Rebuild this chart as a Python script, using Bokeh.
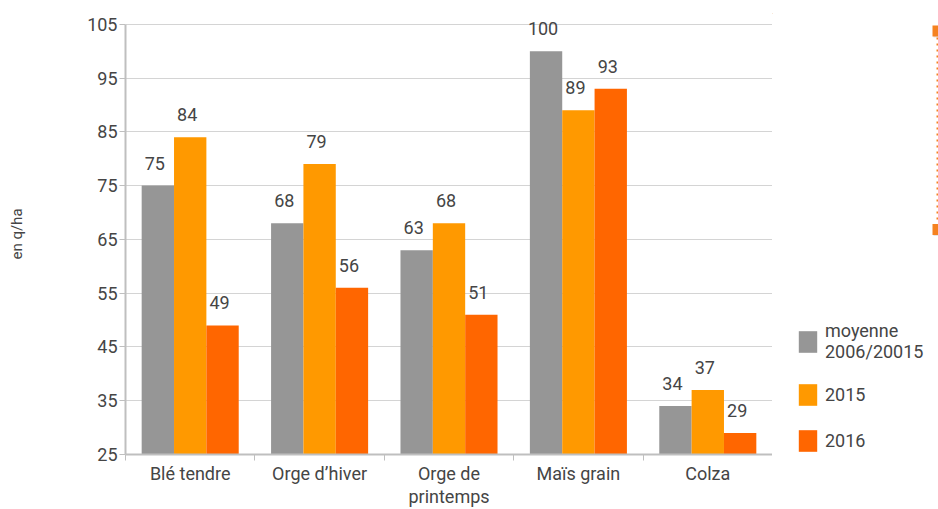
import numpy as np
from bokeh.plotting import figure
from bokeh.layouts import row
from bokeh.models import (ColumnDataSource, FixedTicker, Range1d, LabelSet, Legend,
                          LegendItem)
from bokeh.core.properties import value
from bokeh.embed import file_html
from bokeh.resources import INLINE

categories = ["Blé tendre", "Orge d’hiver", "Orge de\nprintemps", "Maïs grain", "Colza"]
moyenne = [75, 68, 63, 100, 34]
y2015 = [84, 79, 68, 89, 37]
y2016 = [49, 56, 51, 93, 29]
series_names = ["moyenne\n2006/20015", "2015", "2016"]
colors = ["#969696", "#FF9900", "#FF6600"]
y_ticks = [25, 35, 45, 55, 65, 75, 85, 95, 105]

FONT = "Roboto"
TXT = "#454545"
H = 509

p = figure(width=772, height=H, x_range=Range1d(0, 5), y_range=Range1d(25, 107),
           output_backend="svg", toolbar_location=None,
           min_border_left=125, min_border_right=0, min_border_top=13, min_border_bottom=54)

centers = np.arange(len(categories)) + 0.5
offsets = [-0.25, 0.0, 0.25]
for vals, off, col in zip([moyenne, y2015, y2016], offsets, colors):
    src = ColumnDataSource(dict(x=centers + off, top=vals, label=[str(v) for v in vals]))
    p.vbar(x="x", top="top", bottom=0, width=0.25, source=src,
           fill_color=col, line_color=None)
    p.add_layout(LabelSet(x="x", y="top", text="label", source=src, text_align="center",
                          text_baseline="alphabetic", x_offset=-3, y_offset=16,
                          text_font=value(FONT), text_font_size="18px", text_color=TXT))

# axes
p.xaxis.ticker = FixedTicker(ticks=list(centers), minor_ticks=list(range(len(categories) + 1)))
p.xaxis.major_label_overrides = {float(c): lab for c, lab in zip(centers, categories)}
p.xaxis.major_tick_line_color = None
p.xaxis.major_tick_out = 0
p.xaxis.major_tick_in = 0
p.xaxis.minor_tick_out = 6
p.xaxis.minor_tick_in = 0
p.xaxis.minor_tick_line_color = "#bfbfbf"
p.xaxis.axis_line_color = "#bfbfbf"
p.xaxis.axis_line_width = 2
p.xaxis.major_label_standoff = 2
p.xaxis.major_label_text_line_height = 1.1

p.yaxis.ticker = FixedTicker(ticks=y_ticks)
p.yaxis.bounds = (25, 105)
p.yaxis.minor_tick_line_color = None
p.yaxis.major_tick_out = 6
p.yaxis.major_tick_in = 0
p.yaxis.major_tick_line_color = "#bfbfbf"
p.yaxis.axis_line_color = "#bfbfbf"
p.yaxis.axis_line_width = 2
p.yaxis.major_label_standoff = 2
p.yaxis.axis_label = "en q/ha"
p.yaxis.axis_label_text_font = FONT
p.yaxis.axis_label_text_font_size = "15px"
p.yaxis.axis_label_text_font_style = "normal"
p.yaxis.axis_label_text_color = TXT
p.yaxis.axis_label_standoff = 58

for ax in (p.xaxis, p.yaxis):
    ax.major_label_text_font = FONT
    ax.major_label_text_font_size = "18px"
    ax.major_label_text_color = TXT

p.xgrid.visible = False
p.ygrid.grid_line_color = "#d4d4d4"
p.ygrid.grid_line_width = 1
p.outline_line_color = None

# right strip: legend + cut-off orange dotted bracket.
# Its frame is aligned with the main frame (page y 13..455), so use a
# top-down pixel range for it.
d = figure(width=166, height=H, x_range=Range1d(0, 166), y_range=Range1d(455, 13),
           output_backend="svg", toolbar_location=None, title=None,
           x_axis_location=None, y_axis_location=None,
           min_border_left=0, min_border_right=0, min_border_top=0, min_border_bottom=0)
d.grid.visible = False
d.outline_line_color = None

# off-canvas proxies so the legend can show a swatch for each series
legend_renderers = [d.vbar(x=[-500], top=[-500], bottom=[-510], width=1,
                           fill_color=c, line_color=None) for c in colors]
legend = Legend(items=[LegendItem(label=n, renderers=[r]) for n, r in zip(series_names, legend_renderers)],
                location=(24, 0), orientation="vertical",
                glyph_width=23, glyph_height=27, label_standoff=6, spacing=19,
                padding=0, margin=0, border_line_color=None, background_fill_alpha=0,
                label_text_font=FONT, label_text_font_size="18px", label_text_color=TXT)
d.add_layout(legend)

deco = "#F58220"
d.quad(left=[161, 161], right=[166, 166], top=[26, 225], bottom=[37, 236],
       fill_color="#e6e6e6", line_color=None)
d.quad(left=[160, 160], right=[166, 166], top=[25, 224], bottom=[36, 235],
       fill_color=deco, line_color=None)
d.segment(x0=[165], y0=[37], x1=[165], y1=[223], line_color=deco, line_width=2,
          line_dash="2 4")

layout = row(p, d, spacing=0)
open("out.html", "w").write(file_html(layout, INLINE))
